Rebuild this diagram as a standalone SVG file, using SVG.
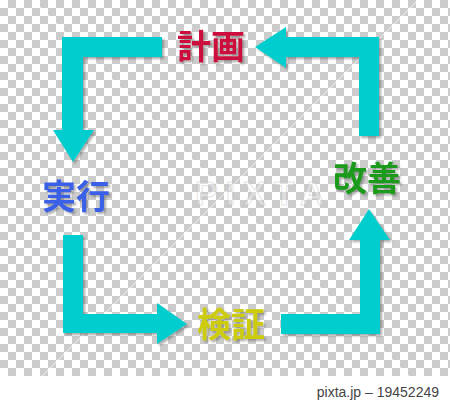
<svg xmlns="http://www.w3.org/2000/svg" width="450" height="402" viewBox="0 0 450 402">
  <defs>
    <pattern id="checker" x="0" y="0" width="16" height="16" patternUnits="userSpaceOnUse">
      <rect width="16" height="16" fill="#ffffff"/>
      <rect x="8" y="0" width="8" height="8" fill="#cccccc"/>
      <rect x="0" y="8" width="8" height="8" fill="#cccccc"/>
    </pattern>
    <filter id="shadow" x="-10%" y="-10%" width="130%" height="130%">
      <feDropShadow dx="2" dy="2" stdDeviation="1" flood-color="#555555" flood-opacity="0.5"/>
    </filter>
  </defs>
  <style>
    .arrow { fill: #00CECE; filter: url(#shadow); }
    .label { font-family: "Noto Sans CJK JP", "Noto Sans CJK SC", sans-serif; font-weight: bold; font-size: 34px; text-anchor: middle; dominant-baseline: central; filter: url(#shadow); }
    .wm-line { stroke: #ffffff; stroke-width: 1; opacity: 0.7; fill: none; }
    .credit { font-family: "Liberation Sans", Arial, sans-serif; font-size: 14px; fill: #444444; text-anchor: end; }
    .wm-text { font-family: "Liberation Sans", Arial, sans-serif; font-size: 34px; font-weight: bold; fill: #ffffff; fill-opacity: 0.35; stroke: #aaaaaa; stroke-opacity: 0.35; stroke-width: 1; letter-spacing: 8px; }
  </style>

  <rect x="0" y="0" width="450" height="376" fill="url(#checker)"/>
  <rect x="0" y="376" width="450" height="26" fill="#ffffff"/>

  <g id="watermark">
    <line class="wm-line" x1="33" y1="0" x2="409" y2="376"/>
    <line class="wm-line" x1="418" y1="0" x2="42" y2="376"/>
    <text class="wm-text" x="195" y="205">PIXTA</text>
  </g>

  <g id="connectors">
    <polygon id="arrow-plan-do" class="arrow" points="162,37 62,37 62,130 53,130 73,162 94,130 83,130 83,57 162,57"/>
    <polygon id="arrow-do-check" class="arrow" points="63,235 63,333 157,333 157,344 187,324 157,303 157,314 83,314 83,235"/>
    <polygon id="arrow-check-act" class="arrow" points="281,314 360,314 360,240 349,240 369,209 390,240 380,240 380,334 281,334"/>
    <polygon id="arrow-act-plan" class="arrow" points="379,136 379,37 286,37 286,27 255,47 286,68 286,57 359,57 359,136"/>
  </g>

  <g id="node-plan">
    <text class="label" x="211" y="44" fill="#CC0A3C">計画</text>
  </g>
  <g id="node-do">
    <text class="label" x="76" y="194" fill="#3A60E8">実行</text>
  </g>
  <g id="node-check">
    <text class="label" x="231" y="322" fill="#CCCC10">検証</text>
  </g>
  <g id="node-act">
    <text class="label" x="367" y="176" fill="#1A9A1A">改善</text>
  </g>

  <text class="credit" x="439" y="397">pixta.jp – 19452249</text>
</svg>
